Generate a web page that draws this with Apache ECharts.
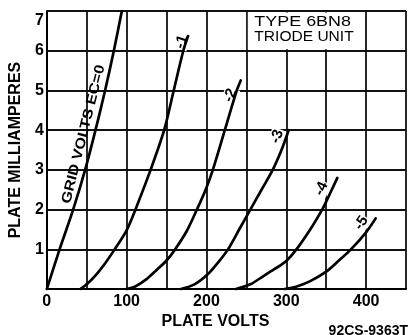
<!DOCTYPE html>
<html>
<head>
<meta charset="utf-8">
<script src="https://cdn.jsdelivr.net/npm/echarts/dist/echarts.min.js"></script>
<style>
  html, body { margin: 0; padding: 0; background: #fff; }
  #chart { width: 409px; height: 335px; }
</style>
</head>
<body>
<div id="chart"></div>
<script>
// Plate characteristics, 6BN8 triode unit: plate volts vs plate milliamperes
const plateVoltTicks = [0, 100, 200, 300, 400];
const milliampTicks = [1, 2, 3, 4, 5, 6, 7];
const gridBiasNames = ['-1', '-2', '-3', '-4', '-5'];

const curveEc0 = [[0, 0], [16, 1], [33, 2], [48, 3], [61, 4], [73, 5], [84, 6], [94, 7]];
const curveEcM1 = [[42, 0], [50, 0.12], [60, 0.32], [72, 0.62], [85, 1], [100, 1.48], [111, 2], [130, 3], [147, 4], [159, 5], [171, 6], [177, 6.37]];
const curveEcM2 = [[100, 0], [112, 0.08], [125, 0.25], [137, 0.47], [150, 0.72], [160, 0.98], [175, 1.45], [188, 2], [199, 2.5], [208, 3], [223, 4], [238, 5], [243, 5.25]];
const curveEcM3 = [[168, 0], [185, 0.12], [202, 0.38], [215, 0.68], [227, 1], [241, 1.5], [255, 2], [269, 2.5], [283, 3], [294, 3.5], [303, 4]];
const curveEcM4 = [[237, 0], [255, 0.12], [270, 0.31], [285, 0.5], [300, 0.71], [312, 0.98], [330, 1.5], [345, 2], [350, 2.2], [357, 2.5], [364, 2.8]];
const curveEcM5 = [[298, 0], [315, 0.08], [330, 0.2], [350, 0.44], [366, 0.72], [381, 1], [400, 1.43], [412, 1.78]];

const titleLines = ['TYPE 6BN8', 'TRIODE UNIT'];
const gridZeroText = 'GRID VOLTS EC=0';
const drawingCode = '92CS-9363T';

const biasCurves = [curveEcM1, curveEcM2, curveEcM3, curveEcM4, curveEcM5];
const allCurves = [curveEc0].concat(biasCurves);

const INK = '#000';
const LABEL_FONT = 'Liberation Sans, Arial, sans-serif';

const chart = echarts.init(document.getElementById('chart'), null, { renderer: 'canvas' });

const option = {
  animation: false,
  backgroundColor: '#fff',
  grid: { left: 36, top: 11, width: 374.6, height: 287, containLabel: false },
  xAxis: {
    type: 'value', min: 0, max: 450, interval: 50,
    name: 'PLATE VOLTS', nameLocation: 'middle', nameGap: 19,
    nameTextStyle: { color: INK, fontFamily: LABEL_FONT, fontWeight: 'bold', fontSize: 16, padding: [0, 22, 0, 0] },
    axisLine: { show: true, lineStyle: { color: INK, width: 2 } },
    axisTick: { show: false },
    axisLabel: {
      color: INK, fontFamily: LABEL_FONT, fontWeight: 'bold', fontSize: 16, margin: 4,
      formatter: v => plateVoltTicks.includes(v) ? String(v) : ''
    },
    splitLine: { show: true, lineStyle: { color: '#111', width: 1.8 } }
  },
  yAxis: {
    type: 'value', min: 0, max: 7, interval: 1,
    name: 'PLATE MILLIAMPERES', nameLocation: 'middle', nameGap: 19,
    nameTextStyle: { color: INK, fontFamily: LABEL_FONT, fontWeight: 'bold', fontSize: 16 },
    axisLine: { show: true, lineStyle: { color: INK, width: 2 } },
    axisTick: { show: false },
    axisLabel: {
      color: INK, fontFamily: LABEL_FONT, fontWeight: 'bold', fontSize: 16, margin: 3,
      formatter: v => {
        if (!milliampTicks.includes(v)) return '';
        return v === milliampTicks[milliampTicks.length - 1] ? '{top|' + v + '}' : String(v);
      },
      rich: { top: { padding: [20, 0, 0, 0], color: INK, fontFamily: LABEL_FONT, fontWeight: 'bold', fontSize: 16 } }
    },
    splitLine: { show: true, lineStyle: { color: '#111', width: 1.8 } }
  },
  series: allCurves.map((pts, i) => ({
    type: 'line',
    name: i === 0 ? '0' : gridBiasNames[i - 1],
    data: pts,
    smooth: 0.3,
    showSymbol: false,
    clip: true,
    silent: true,
    z: 3,
    lineStyle: { color: INK, width: 2.7, cap: 'round' }
  }))
};

chart.setOption(option);

const toPx = p => chart.convertToPixel({ gridIndex: 0 }, p);
const graphics = [];

// Top-anchored text; rotated captions are centred by shifting the box half its height
const textStyle = (text, size, weight, h, extra) => Object.assign({
  text: text, fill: INK, font: weight + ' ' + size + 'px ' + LABEL_FONT,
  align: h, verticalAlign: 'top', textAlign: h, textVerticalAlign: 'top'
}, extra || {});

// White panel for the tube type caption, framed by the grid lines 250-400 V, 6-7 mA
const boxA = toPx([250, 7]);
const boxB = toPx([400, 6]);
graphics.push({
  type: 'rect', z: 1,
  shape: { x: boxA[0] + 1.5, y: boxA[1] + 1.5, width: boxB[0] - boxA[0] - 3, height: boxB[1] - boxA[1] - 3 },
  style: { fill: '#fff' }
});
titleLines.forEach((t, i) => {
  graphics.push({
    type: 'text', z: 2,
    x: boxA[0] + 8, y: boxA[1] + 4 + i * 15,
    scaleX: i === 0 ? 1.28 : 1.11,
    style: textStyle(t, 14, 'normal', 'left')
  });
});

// Bias labels, rotated along each curve near its upper end
const labelShift = [[-6, 6], [-10, 15], [-11, 6.5], [-15.5, 11], [-14, 5]];
biasCurves.forEach((pts, i) => {
  const p1 = toPx(pts[pts.length - 1]);
  const p0 = toPx(pts[pts.length - 2]);
  const ang = Math.atan2(p0[1] - p1[1], p1[0] - p0[0]);
  graphics.push({
    type: 'text', z: 2,
    x: p1[0] + labelShift[i][0], y: p1[1] + labelShift[i][1],
    rotation: ang,
    style: textStyle(gridBiasNames[i], 15, 'bold', 'center',
      { y: -8, backgroundColor: '#fff', padding: [0, 1] })
  });
});

// Zero-bias caption running beside the Ec=0 curve, on its left side
const g0 = toPx(curveEc0[3]);
const g1 = toPx(curveEc0[5]);
const gc = toPx(curveEc0[4]);
const gAng = Math.atan2(g0[1] - g1[1], g1[0] - g0[0]);
graphics.push({
  type: 'text', z: 2,
  x: gc[0] - 12, y: gc[1] + 4,
  rotation: gAng,
  scaleX: 1.15,
  style: textStyle(gridZeroText, 14, 'bold', 'center', { y: -7 })
});

// Drawing number, lower right
graphics.push({
  type: 'text', z: 2,
  x: 408, y: 324,
  style: textStyle(drawingCode, 14, 'bold', 'right')
});

chart.setOption({ graphic: { elements: graphics } });
</script>
</body>
</html>
